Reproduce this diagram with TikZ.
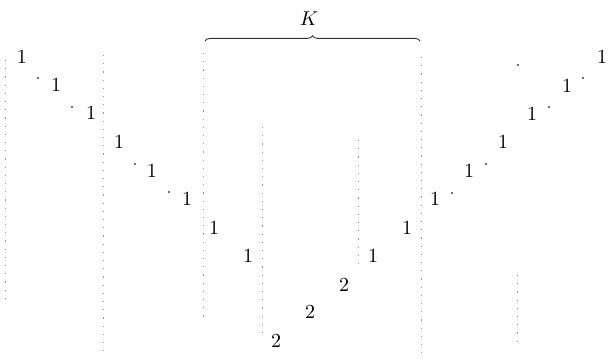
\documentclass[tikz,border=0pt]{standalone}
\usetikzlibrary{decorations.pathreplacing}
\begin{document}
\begin{tikzpicture}[x=0.5pt,y=-0.5pt,
  digit/.style={inner sep=0pt, font=\normalsize},
  guide/.style={draw=black!40, line width=0.45pt, dash pattern=on 0.6pt off 3.5pt},
  speck/.style={fill=black!75, draw=none},
  bracket/.style={draw=black!80, line width=0.45pt, decorate,
    decoration={brace, amplitude=2.6pt}}]
\useasboundingbox (0,0) rectangle (612,359);

% vertical dotted guide lines
\foreach \n/\x/\ya/\yb in {g1/5/60/305, g2/103/55/355, g3/203/53/322,
    g4/262/127/338, g5/358/140/270, g6/421/57/355, g7/517/275/345}{
  \coordinate (\n a) at (\x,\ya);
  \coordinate (\n b) at (\x,\yb);
  \draw[guide] (\n a) -- (\n b);
}

% descending row of ones
\foreach \i/\x/\y in {1/22/57, 2/56/85, 3/91/113, 4/119/142,
    5/152/171, 6/187/199, 7/214/228, 8/248/256}{
  \node[digit] (l\i) at (\x,\y) {1};
}
% ascending row of ones
\foreach \i/\x/\y in {1/373/256, 2/407/228, 3/435/199, 4/469/171,
    5/503/142, 6/532/114, 7/567/86, 8/602/57}{
  \node[digit] (r\i) at (\x,\y) {1};
}
% twos at the bottom
\node[digit] (t1) at (276,341) {2};
\node[digit] (t2) at (310,312) {2};
\node[digit] (t3) at (344,285) {2};

% small marks beside the ones
\foreach \x/\y in {38/78, 72/107, 135/164, 169/192,
    452/193, 486/164, 549/107, 583/78, 518/65}{
  \fill[speck] (\x,\y) circle (0.6pt);
}

% brace with its label
\coordinate (bl) at (205,41);
\coordinate (br) at (420,41);
\draw[bracket] (bl) -- (br);
\node[digit] (K) at (309,19) {$K$};
\end{tikzpicture}
\end{document}
